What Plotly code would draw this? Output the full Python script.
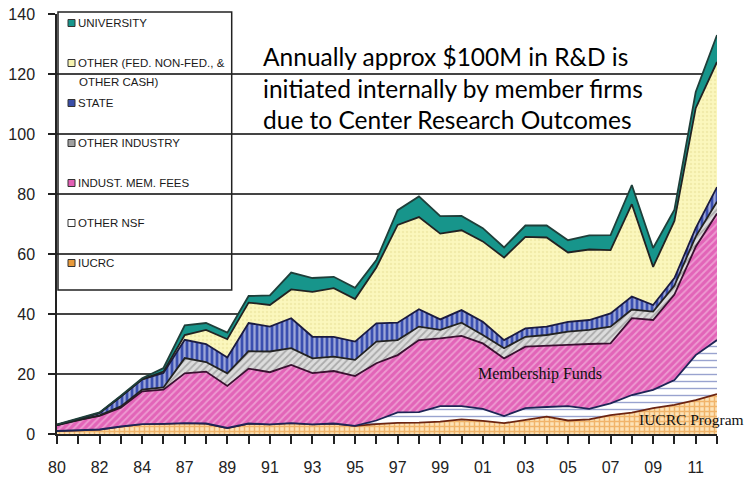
import plotly.graph_objects as go

years = ['80','81','82','83','84','85','87','88','89','90','91','92','93','94','95','96',
         '97','98','99','00','01','02','03','04','05','06','07','08','09','10','11','12']
tick_labels = ['80','','82','','84','','87','','89','','91','','93','','95','',
               '97','','99','','01','','03','','05','','07','','09','','11','']

iucrc = [1.0,1.2,1.5,2.5,3.3,3.4,3.6,3.5,2.0,3.5,3.2,3.6,3.2,3.5,2.7,3.3,
         3.7,3.8,4.1,4.9,4.4,3.6,4.7,5.8,4.5,4.9,6.3,7.1,8.6,9.7,11.3,13.3]
other_nsf = [0,0,0,0,0,0,0,0,0,0,0,0,0,0,0,1.2,
             3.5,3.5,5.2,4.4,4.0,2.4,3.9,3.2,4.8,3.5,3.9,5.9,6.1,8.3,15.0,18.0]
indust_mem_fees = [2.0,3.5,4.5,6.3,10.9,11.4,16.6,17.3,14.0,18.3,17.4,19.4,17.1,17.5,16.6,19.1,
                   19.1,24.0,22.6,23.4,21.8,19.2,20.5,20.3,20.4,21.6,20.0,25.6,23.3,28.5,36.1,42.2]
other_industry = [0,0,0.2,0.4,0.6,0.7,5.1,3.2,4.2,5.8,6.9,5.6,4.9,4.8,5.4,7.2,
                  5.0,4.5,2.8,4.4,2.8,3.4,3.3,3.7,4.4,4.7,5.6,2.9,2.8,3.0,3.4,3.9]
state = [0,0.2,0.8,3.3,3.4,4.8,6.1,6.0,5.3,9.4,8.3,10.0,7.2,6.6,6.1,6.1,
         5.8,5.8,3.5,4.2,4.4,2.7,2.8,2.8,3.3,3.3,4.4,4.3,2.2,2.5,2.8,4.9]
other_cash = [0,0,0,0,0,0.5,1.6,4.7,6.1,6.8,7.2,9.6,15.0,16.2,14.2,18.6,
              32.6,30.7,28.6,26.6,26.8,27.5,30.5,29.7,23.1,23.5,21.1,30.8,12.7,19.0,40.0,41.7]
university = [0.2,0.2,0.2,0.3,0.4,1.2,3.2,2.3,2.2,2.2,3.2,5.6,4.6,3.8,3.7,2.5,
              4.9,6.9,5.8,4.8,4.4,3.4,3.8,4.0,4.1,4.7,5.0,6.4,6.3,3.8,5.4,9.0]

series = [
    ('IUCRC', iucrc, dict(shape='+', bgcolor='#fde3b8', fgcolor='#e5861c', size=5, solidity=0.5), '#6b2410'),
    ('OTHER NSF', other_nsf, dict(shape='-', bgcolor='#ffffff', fgcolor='#3347a0', size=7, solidity=0.2), '#1d2456'),
    ('INDUST. MEM. FEES', indust_mem_fees, dict(shape='/', bgcolor='#e264b8', fgcolor='#f8d2ea', size=5, solidity=0.35), '#3a1030'),
    ('OTHER INDUSTRY', other_industry, dict(shape='/', bgcolor='#dcdcdc', fgcolor='#7a7a7a', size=5, solidity=0.35), '#222222'),
    ('STATE', state, dict(shape='|', bgcolor='#3a4fb0', fgcolor='#ffffff', size=5, solidity=0.45), '#1a1a40'),
    ('OTHER (FED. NON-FED., & OTHER CASH)', other_cash, dict(shape='.', bgcolor='#fbf7bd', fgcolor='#e6dd95', size=4, solidity=0.3), '#222222'),
    ('UNIVERSITY', university, None, '#1f3f3a'),
]

fig = go.Figure()
for name, vals, pat, lc in series:
    kw = dict(x=years, y=vals, name=name, mode='lines', stackgroup='one',
              line=dict(color=lc, width=1.8), showlegend=False, hoverinfo='name+y')
    if pat is None:
        kw['fillcolor'] = '#17958b'
    else:
        kw['fillcolor'] = pat['bgcolor']
        kw['fillpattern'] = pat
    fig.add_trace(go.Scatter(**kw))

# manual legend
shapes = []
annotations = []
W, H, L, B = 660.0, 420.0, 57.0, 434.0
def px(xp):
    return (xp - L) / W
def py(yp):
    return (B - yp) / H

shapes.append(dict(type='rect', xref='paper', yref='paper', x0=px(58), x1=px(231.7),
                   y0=py(290), y1=py(12), line=dict(color='#222', width=1.5), fillcolor='rgba(0,0,0,0)'))
legend_rows = [
    ('UNIVERSITY', 23, '#17968c', None),
    ('OTHER (FED. NON-FED., &', 63, '#f7f3b0', 'OTHER CASH)'),
    ('STATE', 103, '#3a4ea8', None),
    ('OTHER INDUSTRY', 143, '#a0a0a0', None),
    ('INDUST. MEM. FEES', 183, '#e25fb4', None),
    ('OTHER NSF', 223, '#ffffff', None),
    ('IUCRC', 263, '#e89a3a', None),
]
lfont = dict(family='Liberation Sans, Arial, sans-serif', size=11.5, color='#1a1a1a')
for label, yc, col, second in legend_rows:
    shapes.append(dict(type='rect', xref='paper', yref='paper', x0=px(68), x1=px(75),
                       y0=py(yc + 3.5), y1=py(yc - 3.5), line=dict(color='#333', width=1), fillcolor=col))
    annotations.append(dict(text=label, xref='paper', yref='paper', x=px(76), y=py(yc),
                            xanchor='left', yanchor='middle', showarrow=False, font=lfont))
    if second:
        annotations.append(dict(text=second, xref='paper', yref='paper', x=px(77), y=py(yc + 19),
                                xanchor='left', yanchor='middle', showarrow=False, font=lfont))

big_lines = ['Annually approx $100M in R&D is', 'initiated internally by member firms',
             'due to Center Research Outcomes']
for i, t in enumerate(big_lines):
    annotations.append(dict(text=t, xref='paper', yref='paper', x=px(261), y=py(56.5 + 31.7 * i),
                            xanchor='left', yanchor='middle', showarrow=False,
                            font=dict(family='Lato, Open Sans, sans-serif', size=24.5, color='#000')))

annotations.append(dict(text='Membership Funds', xref='paper', yref='paper', x=px(540), y=py(374),
                        xanchor='center', yanchor='middle', showarrow=False,
                        font=dict(family='Liberation Serif, serif', size=16, color='#111')))
annotations.append(dict(text='IUCRC Program', xref='paper', yref='paper', x=px(637), y=py(419),
                        xanchor='left', yanchor='middle', showarrow=False,
                        font=dict(family='Liberation Serif, serif', size=15.5, color='#111')))

axfont = dict(family='Liberation Sans, Arial, sans-serif', size=16, color='#222')
fig.update_layout(
    width=749, height=480,
    margin=dict(l=57, r=32, t=14, b=46, autoexpand=False),
    paper_bgcolor='white', plot_bgcolor='white',
    showlegend=False,
    shapes=shapes, annotations=annotations,
    xaxis=dict(type='category', categoryorder='array', categoryarray=years,
               range=[0, len(years) - 1], tickmode='array', tickvals=years, ticktext=tick_labels,
               ticks='outside', ticklen=8, tickwidth=1.5, tickcolor='#222',
               showline=True, linecolor='#222', linewidth=1.5, showgrid=False,
               tickfont=axfont, ticklabelstandoff=10, automargin=False),
    yaxis=dict(range=[0, 140], dtick=20, tick0=0, ticks='outside', ticklen=7, tickwidth=1.5,
               tickcolor='#222', showline=True, linecolor='#222', linewidth=1.5,
               showgrid=True, gridcolor='#444', gridwidth=1.5, zeroline=False,
               tickfont=axfont, ticklabelstandoff=10, automargin=False),
)

fig.write_html('out.html', config={'displayModeBar': False},
               post_script="document.body.style.margin='0';document.body.style.overflow='hidden';")
